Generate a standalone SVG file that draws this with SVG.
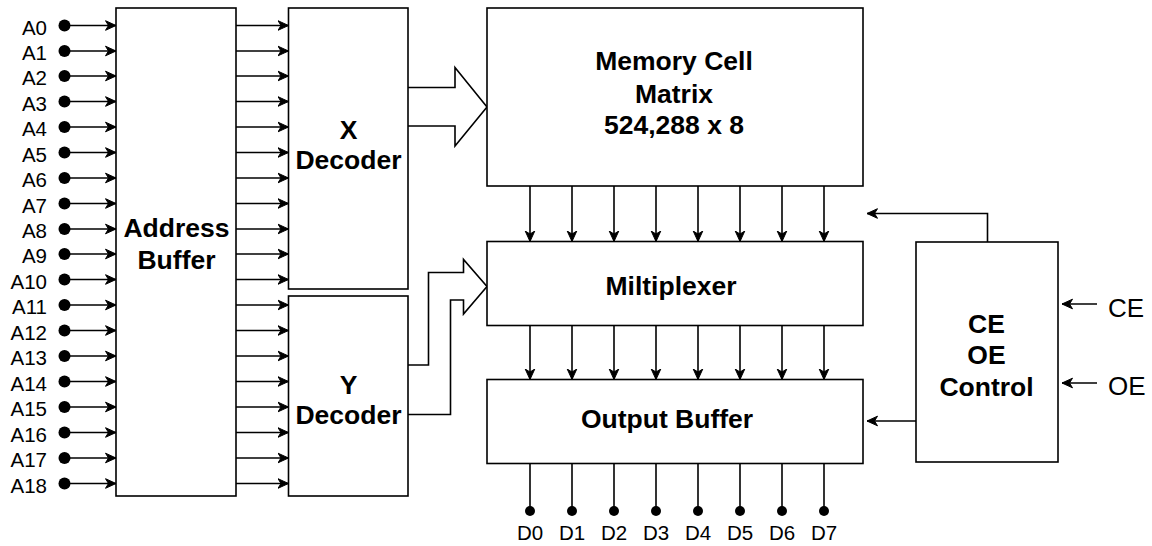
<svg xmlns="http://www.w3.org/2000/svg" width="1152" height="546" viewBox="0 0 1152 546">
<style>
.box{fill:#fff;stroke:#000;stroke-width:1.6}
.ln{fill:none;stroke:#000;stroke-width:1.6}
.big{fill:#fff;stroke:#000;stroke-width:1.6;stroke-linejoin:miter}
.t{font-family:"Liberation Sans",Arial,sans-serif;font-weight:bold;font-size:26.5px;text-anchor:middle;fill:#000}
.lab{font-family:"Liberation Sans",Arial,sans-serif;font-size:20.5px;fill:#000}
.lab2{font-family:"Liberation Sans",Arial,sans-serif;font-size:26px;fill:#000}
</style>
<defs>
<marker id="arr" viewBox="-11 -6 12 12" refX="0" refY="0" markerWidth="12" markerHeight="12" markerUnits="userSpaceOnUse" orient="auto">
<path d="M0,0 L-10.5,-4.8 L-7.5,0 L-10.5,4.8 Z" fill="#000" stroke="#000" stroke-width="1"/>
</marker>
</defs>
<rect width="1152" height="546" fill="#fff"/>

<g id="connectors">
<g class="ln" marker-end="url(#arr)">
<path d="M64.5,25.5H116"/><path d="M64.5,51H116"/><path d="M64.5,76H116"/><path d="M64.5,101.5H116"/>
<path d="M64.5,127H116"/><path d="M64.5,152.5H116"/><path d="M64.5,178H116"/><path d="M64.5,203.5H116"/>
<path d="M64.5,229H116"/><path d="M64.5,254H116"/><path d="M64.5,279.5H116"/><path d="M64.5,305H116"/>
<path d="M64.5,330.5H116"/><path d="M64.5,356H116"/><path d="M64.5,381.5H116"/><path d="M64.5,407H116"/>
<path d="M64.5,432.5H116"/><path d="M64.5,458H116"/><path d="M64.5,483.5H116"/>
<path d="M236,25.5H288.5"/><path d="M236,51H288.5"/><path d="M236,76H288.5"/><path d="M236,101.5H288.5"/>
<path d="M236,127H288.5"/><path d="M236,152.5H288.5"/><path d="M236,178H288.5"/><path d="M236,203.5H288.5"/>
<path d="M236,229H288.5"/><path d="M236,254H288.5"/><path d="M236,279.5H288.5"/><path d="M236,305H288.5"/>
<path d="M236,330.5H288.5"/><path d="M236,356H288.5"/><path d="M236,381.5H288.5"/><path d="M236,407H288.5"/>
<path d="M236,432.5H288.5"/><path d="M236,458H288.5"/><path d="M236,483.5H288.5"/>
<path d="M530,186V241.5"/><path d="M572,186V241.5"/><path d="M614,186V241.5"/><path d="M656,186V241.5"/>
<path d="M698,186V241.5"/><path d="M740,186V241.5"/><path d="M782,186V241.5"/><path d="M824,186V241.5"/>
<path d="M530,325.5V379.5"/><path d="M572,325.5V379.5"/><path d="M614,325.5V379.5"/><path d="M656,325.5V379.5"/>
<path d="M698,325.5V379.5"/><path d="M740,325.5V379.5"/><path d="M782,325.5V379.5"/><path d="M824,325.5V379.5"/>
<path d="M987.5,242V213.5H867"/>
<path d="M916,421H867"/>
<path d="M1097,304H1062"/>
<path d="M1097,383H1062"/>
</g>
<g class="ln">
<path d="M530,463.5V511"/><path d="M572,463.5V511"/><path d="M614,463.5V511"/><path d="M656,463.5V511"/>
<path d="M698,463.5V511"/><path d="M740,463.5V511"/><path d="M782,463.5V511"/><path d="M824,463.5V511"/>
</g>
<path class="big" d="M408,87.5H455V67.5L487,107L455,146V126H408"/>
<path class="big" d="M408,365H428.5V272.5H463.5V259.5L487,286.5L463.5,314V300H450.5V414.5H408"/>
<g fill="#000">
<circle cx="64.5" cy="25.5" r="6"/><circle cx="64.5" cy="51" r="6"/><circle cx="64.5" cy="76" r="6"/><circle cx="64.5" cy="101.5" r="6"/>
<circle cx="64.5" cy="127" r="6"/><circle cx="64.5" cy="152.5" r="6"/><circle cx="64.5" cy="178" r="6"/><circle cx="64.5" cy="203.5" r="6"/>
<circle cx="64.5" cy="229" r="6"/><circle cx="64.5" cy="254" r="6"/><circle cx="64.5" cy="279.5" r="6"/><circle cx="64.5" cy="305" r="6"/>
<circle cx="64.5" cy="330.5" r="6"/><circle cx="64.5" cy="356" r="6"/><circle cx="64.5" cy="381.5" r="6"/><circle cx="64.5" cy="407" r="6"/>
<circle cx="64.5" cy="432.5" r="6"/><circle cx="64.5" cy="458" r="6"/><circle cx="64.5" cy="483.5" r="6"/>
<circle cx="530" cy="511" r="5"/><circle cx="572" cy="511" r="5"/><circle cx="614" cy="511" r="5"/><circle cx="656" cy="511" r="5"/>
<circle cx="698" cy="511" r="5"/><circle cx="740" cy="511" r="5"/><circle cx="782" cy="511" r="5"/><circle cx="824" cy="511" r="5"/>
</g>
</g>

<g id="address-labels" class="lab" text-anchor="end">
<text x="47" y="34.5">A0</text><text x="47" y="60">A1</text><text x="47" y="85">A2</text><text x="47" y="110.5">A3</text>
<text x="47" y="136">A4</text><text x="47" y="161.5">A5</text><text x="47" y="187">A6</text><text x="47" y="212.5">A7</text>
<text x="47" y="238">A8</text><text x="47" y="263">A9</text><text x="47" y="288.5">A10</text><text x="47" y="314">A11</text>
<text x="47" y="339.5">A12</text><text x="47" y="365">A13</text><text x="47" y="390.5">A14</text><text x="47" y="416">A15</text>
<text x="47" y="441.5">A16</text><text x="47" y="467">A17</text><text x="47" y="492.5">A18</text>
</g>
<g id="data-labels" class="lab" text-anchor="middle">
<text x="530" y="540">D0</text><text x="572" y="540">D1</text><text x="614" y="540">D2</text><text x="656" y="540">D3</text>
<text x="698" y="540">D4</text><text x="740" y="540">D5</text><text x="782" y="540">D6</text><text x="824" y="540">D7</text>
</g>
<g id="control-labels" class="lab2">
<text x="1108" y="316.5">CE</text>
<text x="1108" y="395">OE</text>
</g>

<g id="address-buffer">
<rect class="box" x="116" y="8" width="120" height="488"/>
<text class="t" x="176.5" y="236.5">Address</text>
<text class="t" x="176.5" y="269">Buffer</text>
</g>
<g id="x-decoder">
<rect class="box" x="288.5" y="8" width="119.5" height="281"/>
<text class="t" x="348.5" y="138.5">X</text>
<text class="t" x="348.5" y="168.5">Decoder</text>
</g>
<g id="y-decoder">
<rect class="box" x="288.5" y="296" width="119.5" height="200"/>
<text class="t" x="348.5" y="393.5">Y</text>
<text class="t" x="348.5" y="423.5">Decoder</text>
</g>
<g id="memory-cell-matrix">
<rect class="box" x="487" y="8" width="376" height="178"/>
<text class="t" x="674" y="70">Memory Cell</text>
<text class="t" x="674" y="102.5">Matrix</text>
<text class="t" x="674" y="134">524,288 x 8</text>
</g>
<g id="multiplexer">
<rect class="box" x="487" y="241.5" width="376" height="84"/>
<text class="t" x="671" y="295">Miltiplexer</text>
</g>
<g id="output-buffer">
<rect class="box" x="487" y="379.5" width="376" height="84"/>
<text class="t" x="667" y="427.5">Output Buffer</text>
</g>
<g id="control">
<rect class="box" x="916" y="242" width="142" height="220"/>
<text class="t" x="986.5" y="332.5">CE</text>
<text class="t" x="986.5" y="364">OE</text>
<text class="t" x="986.5" y="396">Control</text>
</g>
</svg>
